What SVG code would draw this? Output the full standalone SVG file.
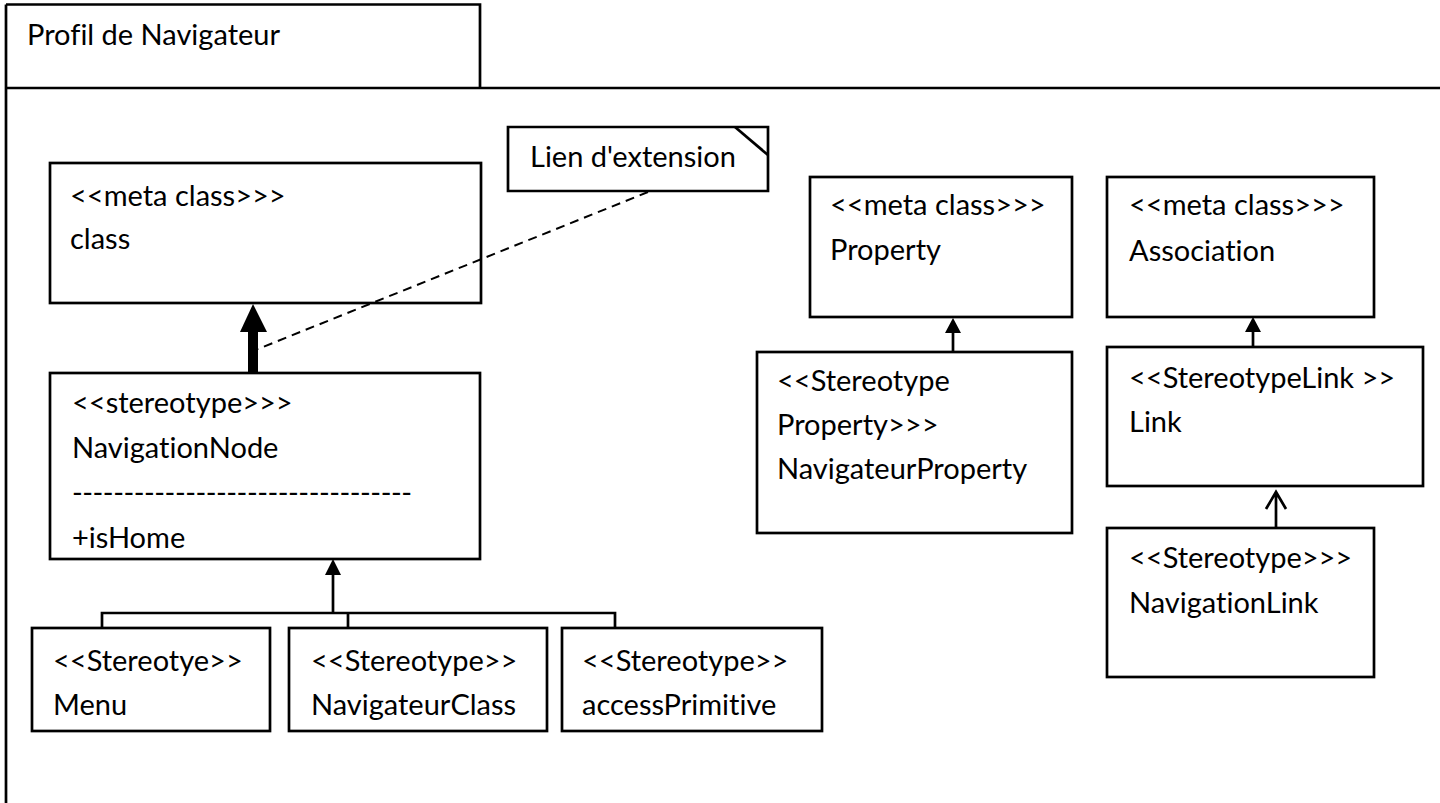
<svg xmlns="http://www.w3.org/2000/svg" width="1440" height="803" viewBox="0 0 1440 803">
<style>
.box{fill:#fff;stroke:#000;stroke-width:2.7}
.ln{fill:none;stroke:#000;stroke-width:2.7}
.t{font-family:Lato,"Liberation Sans",sans-serif;font-size:29px;fill:#000;font-variant-ligatures:none;font-feature-settings:"liga" 0,"clig" 0}
</style>
<rect width="1440" height="803" fill="#fff"/>
<g id="frame">
<path class="ln" d="M6,4.5 H480 V88 M6,4.5 V803 M6,88 H1440"/>
<text class="t" x="27" y="45">Profil de Navigateur</text>
</g>
<g id="note">
<path class="box" d="M508,127 H768 V191 H508 Z"/>
<path class="ln" d="M735,127 L768,155"/>
<text class="t" x="530" y="167">Lien d'extension</text>
</g>
<g id="metaclass-class">
<rect class="box" x="50" y="163" width="431" height="140"/>
<text class="t" x="70" y="206">&lt;&lt;meta class&gt;&gt;&gt;</text>
<text class="t" x="70" y="249">class</text>
</g>
<g id="navigation-node">
<rect class="box" x="50" y="373" width="430" height="186"/>
<text class="t" x="72" y="413">&lt;&lt;stereotype&gt;&gt;&gt;</text>
<text class="t" x="72" y="458">NavigationNode</text>
<text class="t" x="72" y="503" textLength="340" lengthAdjust="spacing">---------------------------------</text>
<text class="t" x="72" y="548">+isHome</text>
</g>
<g id="menu">
<rect class="box" x="32" y="628" width="238" height="103"/>
<text class="t" x="53" y="671">&lt;&lt;Stereotye&gt;&gt;</text>
<text class="t" x="53" y="715">Menu</text>
</g>
<g id="navigateur-class">
<rect class="box" x="289" y="628" width="258" height="103"/>
<text class="t" x="311" y="671">&lt;&lt;Stereotype&gt;&gt;</text>
<text class="t" x="311" y="715">NavigateurClass</text>
</g>
<g id="access-primitive">
<rect class="box" x="562" y="628" width="260" height="103"/>
<text class="t" x="582" y="671">&lt;&lt;Stereotype&gt;&gt;</text>
<text class="t" x="582" y="715">accessPrimitive</text>
</g>
<g id="metaclass-property">
<rect class="box" x="810" y="177" width="262" height="140"/>
<text class="t" x="830" y="215">&lt;&lt;meta class&gt;&gt;&gt;</text>
<text class="t" x="830" y="260">Property</text>
</g>
<g id="navigateur-property">
<rect class="box" x="757" y="352" width="315" height="181"/>
<text class="t" x="777" y="391">&lt;&lt;Stereotype</text>
<text class="t" x="777" y="435">Property&gt;&gt;&gt;</text>
<text class="t" x="777" y="479">NavigateurProperty</text>
</g>
<g id="metaclass-association">
<rect class="box" x="1107" y="177" width="267" height="140"/>
<text class="t" x="1129" y="215">&lt;&lt;meta class&gt;&gt;&gt;</text>
<text class="t" x="1129" y="261">Association</text>
</g>
<g id="link">
<rect class="box" x="1107" y="347" width="316" height="139"/>
<text class="t" x="1129" y="388">&lt;&lt;StereotypeLink &gt;&gt;</text>
<text class="t" x="1129" y="432">Link</text>
</g>
<g id="navigation-link">
<rect class="box" x="1107" y="528" width="267" height="149"/>
<text class="t" x="1129" y="568">&lt;&lt;Stereotype&gt;&gt;&gt;</text>
<text class="t" x="1129" y="613">NavigationLink</text>
</g>
<g id="connectors">
<path d="M648,192 L258,349" fill="none" stroke="#000" stroke-width="2" stroke-dasharray="9,6"/>
<rect x="248" y="331" width="10" height="42" fill="#000"/>
<polygon points="253,304 240,332 267,332" fill="#000"/>
<path class="ln" d="M333,613 V574 M102,628 V613 H615 V628 M348,613 V628"/>
<polygon points="333,559 325,575 341,575" fill="#000"/>
<path class="ln" d="M953,352 V332"/>
<polygon points="953,318 945,333 961,333" fill="#000"/>
<path class="ln" d="M1253,347 V331"/>
<polygon points="1253,317 1245,332 1261,332" fill="#000"/>
<path class="ln" d="M1276,528 V492 M1266,509 L1276,492 L1286,509"/>
</g>
</svg>
